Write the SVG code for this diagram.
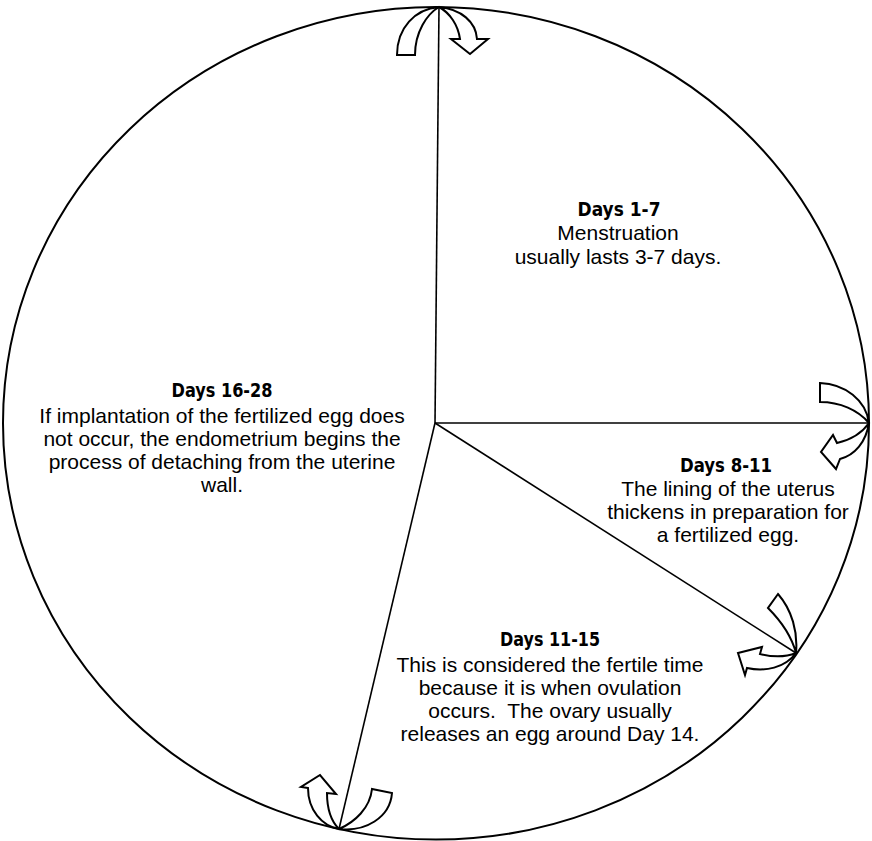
<svg xmlns="http://www.w3.org/2000/svg" width="872" height="841" viewBox="0 0 872 841">
<style>
.bg{fill:#fff}
.rim{fill:none;stroke:#000;stroke-width:2}
.spoke{fill:none;stroke:#000;stroke-width:1.6}
.arrow{fill:#fff;stroke:#000;stroke-width:2;stroke-linejoin:miter}
.h{font-family:"DejaVu Sans Condensed","DejaVu Sans",sans-serif;font-stretch:condensed;font-weight:bold;font-size:20px;fill:#000;text-anchor:middle}
.t{font-family:"Liberation Sans",Arial,sans-serif;font-size:21px;fill:#000;text-anchor:middle}
</style>
<rect class="bg" x="0" y="0" width="872" height="841"/>
<g id="wheel">
<ellipse class="rim" cx="436" cy="423.3" rx="433" ry="416.3"/>
</g>
<g id="connectors">
<line class="spoke" x1="435" y1="423" x2="439" y2="7"/>
<line class="spoke" x1="435" y1="423" x2="869" y2="423"/>
<line class="spoke" x1="435" y1="423" x2="796" y2="653"/>
<line class="spoke" x1="435" y1="423" x2="339" y2="829"/>
<path id="arrow-top" class="arrow" d="M 397,55 C 397,28 415,9 439,7 C 461,9 476,22 477,39 L 488,39 L 470,54 L 451,39 L 460,39 C 458,25 450,13 439,7 C 427,14 415,32 415,55 Z"/>
<path id="arrow-right" class="arrow" d="M 820,383 C 845,384 866,400 869,423 C 866,442 855,455 840,459 L 836,469 L 821,452 L 833,435 L 837,443 C 850,440 862,433 869,423 C 858,410 840,402 820,402 Z"/>
<path id="arrow-lowright" class="arrow" d="M 778,594 C 792,610 798,632 796,653 C 785,668 765,672 747,668 L 745,675 L 738,653 L 762,647 L 760,654 C 772,657 786,657 796,653 C 792,638 782,622 768,608 Z"/>
<path id="arrow-bottom" class="arrow" d="M 308,788 L 301,787 L 320,775 L 336,794 L 327,793 C 327,810 332,822 339,829 C 355,822 370,808 372,789 L 392,793 C 390,818 365,832 339,829 C 322,826 308,810 308,788 Z"/>
</g>
<g id="days-1-7">
<text class="h" x="619" y="216" textLength="83" lengthAdjust="spacingAndGlyphs">Days 1-7</text>
<text class="t" x="618" y="240">Menstruation</text>
<text class="t" x="618" y="264">usually lasts 3-7 days.</text>
</g>
<g id="days-8-11">
<text class="h" x="726" y="472" textLength="92" lengthAdjust="spacingAndGlyphs">Days 8-11</text>
<text class="t" x="728" y="496">The lining of the uterus</text>
<text class="t" x="728" y="519">thickens in preparation for</text>
<text class="t" x="728" y="542">a fertilized egg.</text>
</g>
<g id="days-11-15">
<text class="h" x="550" y="646" textLength="100" lengthAdjust="spacingAndGlyphs">Days 11-15</text>
<text class="t" x="550" y="672">This is considered the fertile time</text>
<text class="t" x="550" y="695">because it is when ovulation</text>
<text class="t" x="550" y="718">occurs.&#160; The ovary usually</text>
<text class="t" x="550" y="741">releases an egg around Day 14.</text>
</g>
<g id="days-16-28">
<text class="h" x="222" y="397" textLength="101" lengthAdjust="spacingAndGlyphs">Days 16-28</text>
<text class="t" x="222" y="423">If implantation of the fertilized egg does</text>
<text class="t" x="222" y="446">not occur, the endometrium begins the</text>
<text class="t" x="222" y="469">process of detaching from the uterine</text>
<text class="t" x="222" y="492">wall.</text>
</g>
</svg>
